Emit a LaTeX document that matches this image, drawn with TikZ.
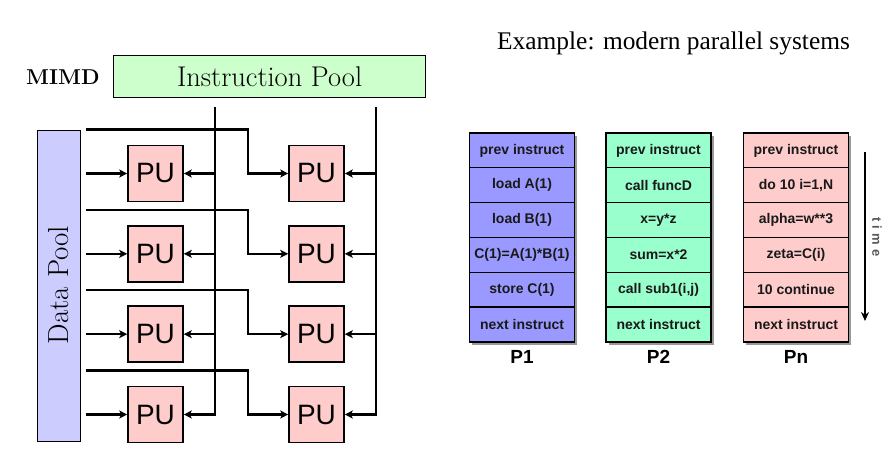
\documentclass[tikz,border=0pt]{standalone}
\usepackage{fontspec}
\newfontfamily\arialf{Liberation Sans}
\newfontfamily\timesf{Liberation Serif}
\usetikzlibrary{arrows.meta,shadows}
\definecolor{ipgreen}{RGB}{204,255,204}
\definecolor{dpblue}{RGB}{204,204,255}
\definecolor{pupink}{RGB}{255,204,204}
\definecolor{pone}{RGB}{153,153,255}
\definecolor{ptwo}{RGB}{153,255,204}
\definecolor{pnn}{RGB}{255,204,204}
\begin{document}
\begin{tikzpicture}[x=1pt,y=-1pt,
  wire/.style={line width=2.2pt},
  arr/.style={wire,-{Stealth[length=8pt,width=8pt,inset=2pt]}},
  pubox/.style={draw,line width=1.6pt,fill=pupink,minimum width=55pt,minimum height=56pt,inner sep=0pt,font=\arialf\fontsize{28}{28}\selectfont},
  frame/.style={draw,line width=1.5pt,minimum width=105pt,minimum height=209pt,inner sep=0pt,
    drop shadow={shadow xshift=2.5pt,shadow yshift=-3pt,opacity=0.8}},
  outl/.style={draw,line width=1.5pt,minimum width=105pt,minimum height=209pt,inner sep=0pt},
  cell/.style={draw,line width=1.1pt,minimum width=105pt,minimum height=34.8pt,inner sep=0pt,
    text=black!90,font=\arialf\bfseries\fontsize{14}{15}\selectfont},
  lbl/.style={font=\arialf\bfseries\fontsize{19}{19}\selectfont},
]
\useasboundingbox (0,0) rectangle (896,471);

% ---------- left: MIMD ----------
\node[font=\fontsize{21.5}{21.5}\selectfont,anchor=west,inner sep=0pt] (mimd) at (26,77) {\textbf{MIMD}};
\node[draw,line width=1.2pt,fill=ipgreen,minimum width=312pt,minimum height=42pt,anchor=north west,
      font=\fontsize{28.5}{28.5}\selectfont] (ip) at (113,55) {Instruction Pool};
\node[draw,line width=1.2pt,fill=dpblue,minimum width=43pt,minimum height=311pt,anchor=north west] (dp) at (37,130) {};
\node[rotate=90,font=\fontsize{29}{29}\selectfont] (dptext) at (58.5,285) {Data Pool};

\foreach \i/\y in {1/173.5,2/253.8,3/334.2,4/414.5}{
  \node[pubox] (L\i) at (155.5,\y) {PU};
  \node[pubox] (R\i) at (316.5,\y) {PU};
  \coordinate (ds\i) at (86,\y);
  \coordinate (dt\i) at (86,\y-44);
  \coordinate (dk\i) at (248,\y);
  \coordinate (ia\i) at (215,\y);
  \coordinate (ib\i) at (376,\y);
}
\coordinate (vatop) at (215,107);
\coordinate (vbtop) at (376,107);

\foreach \i in {1,2,3,4}{
  \draw[arr] (ds\i) -- (L\i.west);
  \draw[arr] (dt\i) -| (dk\i) -- (R\i.west);
}
\foreach \i in {1,2,3}{
  \draw[arr] (ia\i) -- (L\i.east);
  \draw[arr] (ib\i) -- (R\i.east);
}
\draw[arr] (vatop) |- (L4.east);
\draw[arr] (vbtop) |- (R4.east);

% ---------- right: example ----------
\node[font=\timesf\fontsize{25.4}{25.4}\selectfont,anchor=west,inner sep=0pt] (title) at (497,43) {Example: modern parallel systems};

% P1
\node[frame,fill=pone] (oneframe) at (522,237.4) {};
\node[cell,fill=pone] (oner1) at (522,150.4) {prev instruct};
\node[cell,fill=pone] (oner2) at (522,185.2) {load A(1)};
\node[cell,fill=pone] (oner3) at (522,220.0) {load B(1)};
\node[cell,fill=pone] (oner4) at (522,254.8) {C(1)=A(1)*B(1)};
\node[cell,fill=pone] (oner5) at (522,289.6) {store C(1)};
\node[cell,fill=pone] (oner6) at (522,324.4) {next instruct};
\node[outl] (oneout) at (522,237.4) {};
\node[lbl] (onelbl) at (522,357) {P1};

% P2
\node[frame,fill=ptwo] (twoframe) at (658.5,237.4) {};
\node[cell,fill=ptwo] (twor1) at (658.5,150.4) {prev instruct};
\node[cell,fill=ptwo] (twor2) at (658.5,185.2) {call funcD};
\node[cell,fill=ptwo] (twor3) at (658.5,220.0) {x=y*z};
\node[cell,fill=ptwo] (twor4) at (658.5,254.8) {sum=x*2};
\node[cell,fill=ptwo] (twor5) at (658.5,289.6) {call sub1(i,j)};
\node[cell,fill=ptwo] (twor6) at (658.5,324.4) {next instruct};
\node[outl] (twoout) at (658.5,237.4) {};
\node[lbl] (twolbl) at (658.5,357) {P2};

% Pn
\node[frame,fill=pnn] (nnframe) at (796,237.4) {};
\node[cell,fill=pnn] (nnr1) at (796,150.4) {prev instruct};
\node[cell,fill=pnn] (nnr2) at (796,185.2) {do 10 i=1,N};
\node[cell,fill=pnn] (nnr3) at (796,220.0) {alpha=w**3};
\node[cell,fill=pnn] (nnr4) at (796,254.8) {zeta=C(i)};
\node[cell,fill=pnn] (nnr5) at (796,289.6) {10 continue};
\node[cell,fill=pnn] (nnr6) at (796,324.4) {next instruct};
\node[outl] (nnout) at (796,237.4) {};
\node[lbl] (nnlbl) at (796,357) {Pn};

\coordinate (tstart) at (865,152);
\coordinate (tend) at (865,321);
\draw[line width=1.4pt,-{Stealth[length=9pt,width=8pt]}] (tstart) -- (tend);
\node[rotate=-90,text=black!65,font=\arialf\bfseries\fontsize{13}{13}\selectfont] (timelbl) at (877,237) {t\,\,i\,\,m\,\,e};
\end{tikzpicture}
\end{document}
